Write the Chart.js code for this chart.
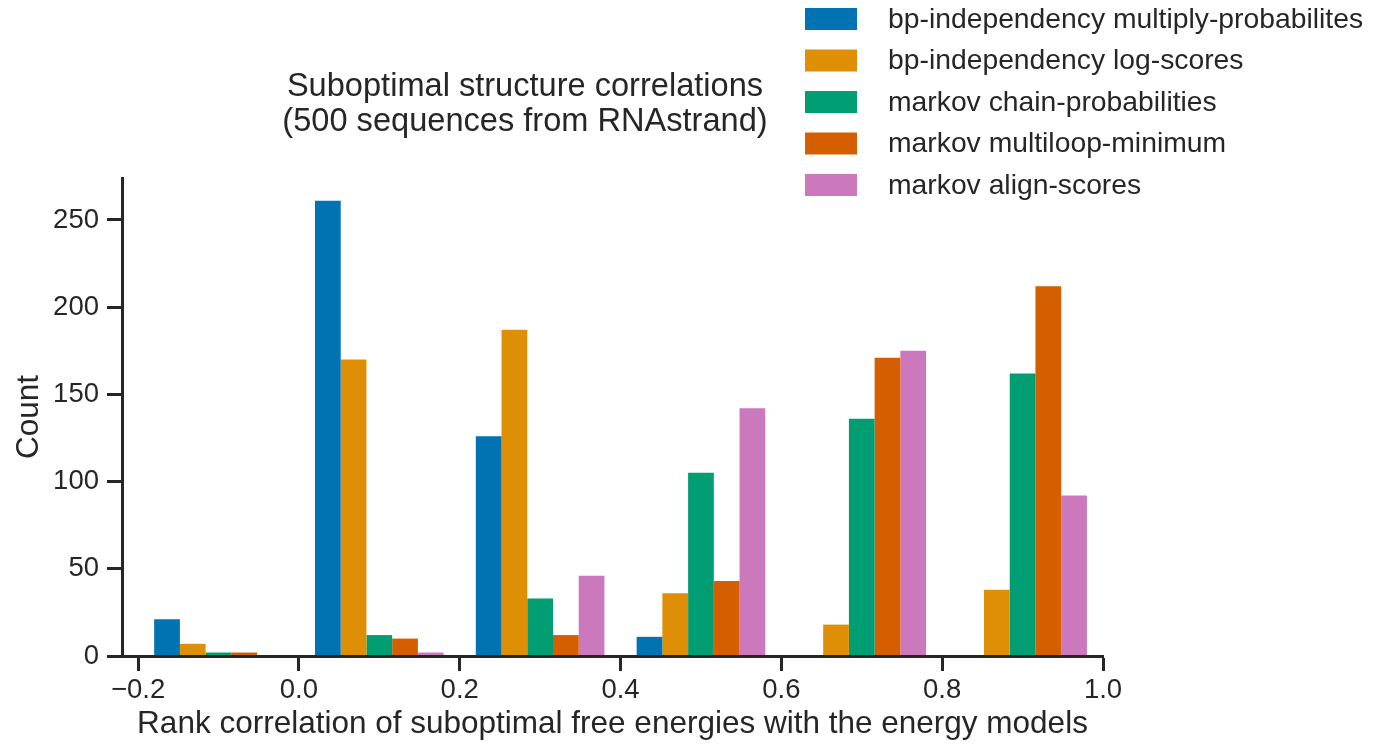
<!DOCTYPE html>
<html><head><meta charset="utf-8">
<script src="https://cdn.jsdelivr.net/npm/chart.js@4.4.0/dist/chart.umd.min.js"></script>
<style>
html,body{margin:0;padding:0;background:#fff;overflow:hidden;}
canvas{display:block;}
</style></head><body>
<canvas id="c" width="1384" height="744"></canvas>
<script>
// ---- data ----
const binCenters = [-0.1, 0.1, 0.3, 0.5, 0.7, 0.9];
const seriesLabels = [
  'bp-independency multiply-probabilites',
  'bp-independency log-scores',
  'markov chain-probabilities',
  'markov multiloop-minimum',
  'markov align-scores'
];
const bpMultiply      = [21, 261, 126, 11, 0, 0];
const bpLogScores     = [7, 170, 187, 36, 18, 38];
const markovChain     = [2, 12, 33, 105, 136, 162];
const markovMultiloop = [2, 10, 12, 43, 171, 212];
const markovAlign     = [0, 2, 46, 142, 175, 92];
const xTicks = [-0.2, 0.0, 0.2, 0.4, 0.6, 0.8, 1.0];
const yTicks = [0, 50, 100, 150, 200, 250];
const titleLines = ['Suboptimal structure correlations', '(500 sequences from RNAstrand)'];
const xTitle = 'Rank correlation of suboptimal free energies with the energy models';
const yTitle = 'Count';

// ---- style ----
const FONT = '"Liberation Sans", Arial, sans-serif';
const INK = '#262626';
const colors = ['#0173b2', '#de8f05', '#029e73', '#d55e00', '#cc78bc'];
const series = [bpMultiply, bpLogScores, markovChain, markovMultiloop, markovAlign];
Chart.defaults.font.family = FONT;
Chart.defaults.color = INK;

const yMax = Math.max(...series.flat()) * 1.05;

const datasets = series.map((vals, i) => ({
  label: seriesLabels[i],
  data: binCenters.map((x, j) => ({x: x, y: vals[j]})),
  backgroundColor: colors[i],
  borderWidth: 0,
  categoryPercentage: 0.8,
  barPercentage: 1.0
}));

const overlay = {
  id: 'overlay',
  afterDraw(chart) {
    const ctx = chart.ctx;
    ctx.save();
    ctx.fillStyle = INK;
    ctx.textAlign = 'center';
    ctx.textBaseline = 'alphabetic';
    ctx.font = '32.6px ' + FONT;
    titleLines.forEach((t, i) => ctx.fillText(t, 525, 96 + i * 35));
    ctx.textAlign = 'left';
    ctx.textBaseline = 'middle';
    ctx.font = '28.3px ' + FONT;
    chart.data.datasets.forEach((ds, i) => {
      const cy = 19 + i * 41.5;
      ctx.fillStyle = ds.backgroundColor;
      ctx.fillRect(805, cy - 11, 52, 22);
      ctx.fillStyle = INK;
      ctx.fillText(ds.label, 888, cy + 1);
    });
    ctx.restore();
  }
};

new Chart(document.getElementById('c'), {
  type: 'bar',
  data: {datasets},
  plugins: [overlay],
  options: {
    responsive: false,
    animation: false,
    layout: {padding: {top: 178, right: 1384 - 1103, left: 0, bottom: 0}},
    plugins: {legend: {display: false}, tooltip: {enabled: false}, title: {display: false}},
    scales: {
      x: {
        type: 'linear', min: -0.22, max: 1.0, offset: false,
        grid: {display: true, drawOnChartArea: false, offset: false, drawTicks: true, tickLength: 15, tickWidth: 3, tickColor: INK},
        border: {display: true, width: 3, color: INK, z: 1},
        ticks: {font: {size: 27.5}, padding: 3, color: INK, autoSkip: false, maxRotation: 0,
          callback: v => (v < -1e-9 ? '\u2212' : '') + Math.abs(v).toFixed(1)},
        afterBuildTicks: s => { s.ticks = xTicks.map(v => ({value: v})); },
        afterFit: s => { s.height = 88; },
        title: {display: true, text: xTitle, font: {size: 31.5}, color: INK, padding: {top: 0, bottom: 1}}
      },
      y: {
        type: 'linear', min: 0, max: yMax,
        grid: {display: true, drawOnChartArea: false, drawTicks: true, tickLength: 15, tickWidth: 3, tickColor: INK},
        border: {display: true, width: 3, color: INK, z: 1},
        ticks: {font: {size: 27.5}, padding: 8, color: INK, callback: v => String(v)},
        afterBuildTicks: s => { s.ticks = yTicks.map(v => ({value: v})); },
        afterFit: s => { s.width = 122; },
        title: {display: true, text: yTitle, font: {size: 31.5}, color: INK, padding: {top: 10, bottom: 0}}
      }
    }
  }
});
</script></body></html>
